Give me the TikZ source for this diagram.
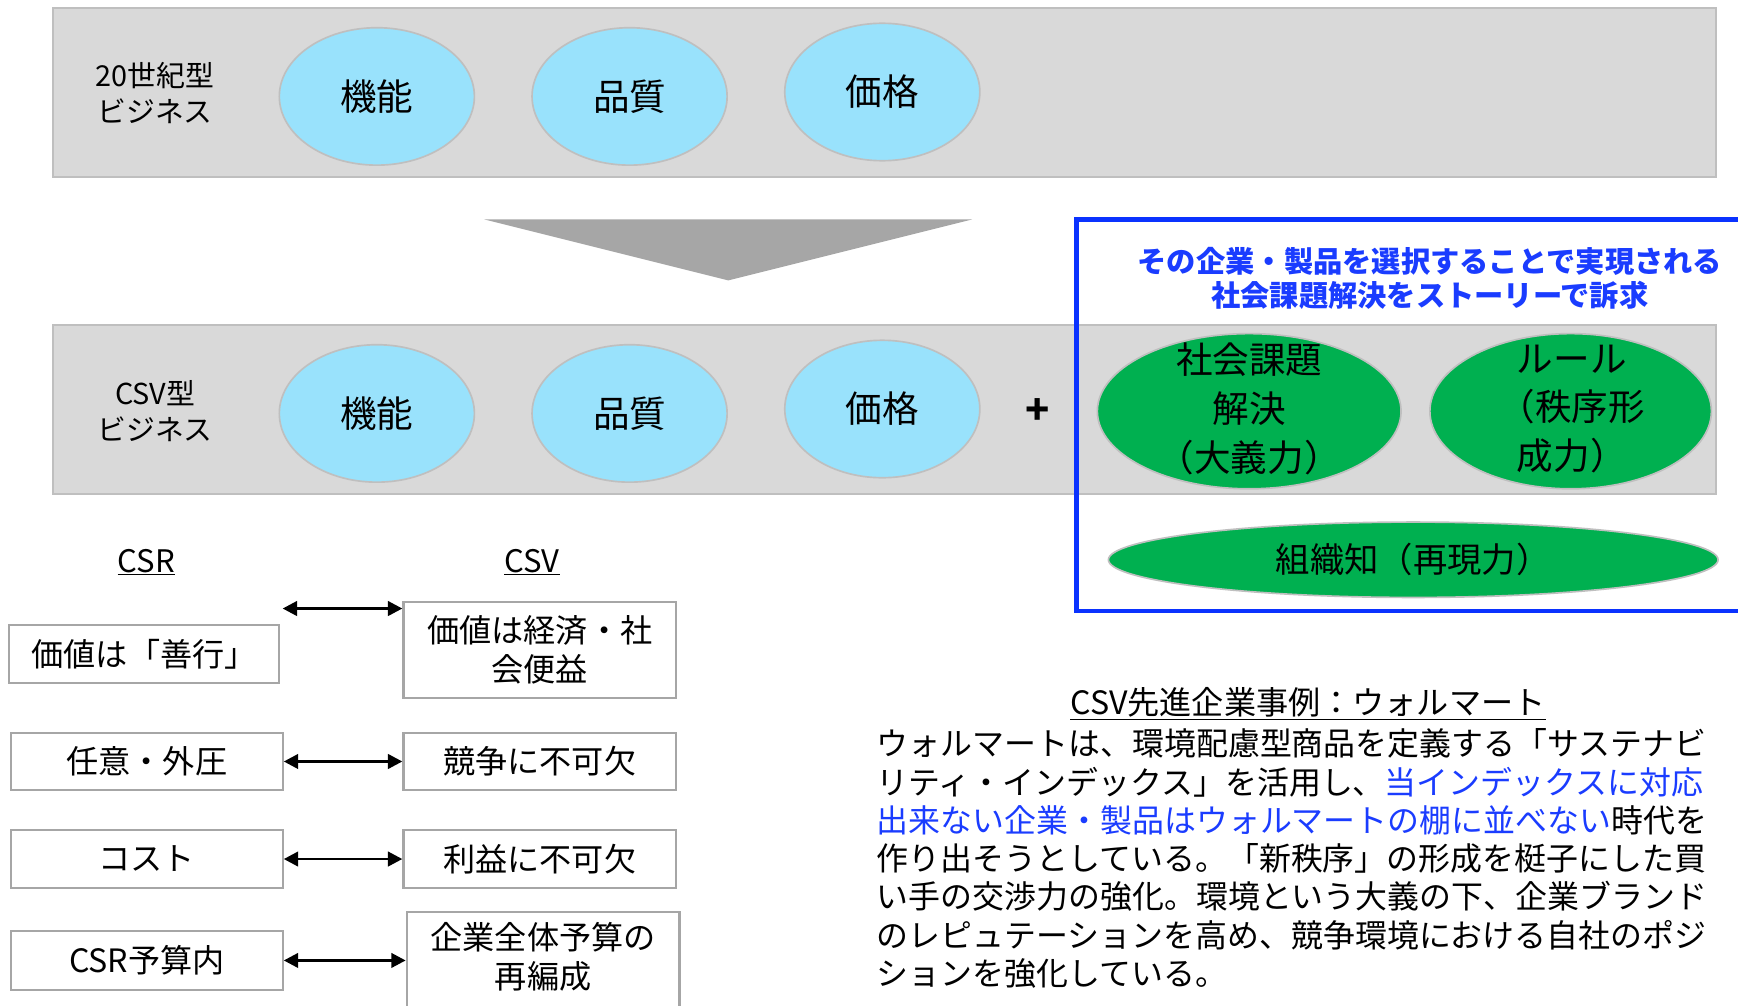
\documentclass[tikz,border=0pt]{standalone}
\usepackage{fontspec}
\setmainfont{Noto Sans CJK JP}
\usetikzlibrary{shapes.geometric,arrows.meta}
\definecolor{bandgray}{HTML}{D9D9D9}
\definecolor{edgegray}{HTML}{BFBFBF}
\definecolor{boxedge}{HTML}{A6A6A6}
\definecolor{cyanfill}{HTML}{99E2FC}
\definecolor{greenfill}{HTML}{00B050}
\definecolor{bluebox}{HTML}{0A32FF}
\definecolor{trigray}{HTML}{A6A6A6}
\definecolor{bluetext}{HTML}{1A3CFF}
\begin{document}
\begin{tikzpicture}[x=1pt,y=-1pt,
  band/.style={fill=bandgray, draw=edgegray, line width=2pt},
  oval/.style={ellipse, fill=cyanfill, draw=edgegray, line width=1.5pt, minimum width=176pt, minimum height=124pt, inner sep=0pt, font=\fontsize{33}{40}\selectfont},
  gov/.style={ellipse, fill=greenfill, draw=edgegray, line width=1.5pt, inner sep=0pt},
  gtext/.style={align=center, font=\fontsize{33}{44}\selectfont, inner sep=0pt},
  rowlabel/.style={align=center, font=\fontsize{26}{33}\selectfont, inner sep=0pt},
  cbox/.style={draw=boxedge, line width=2pt, fill=white, align=center, inner sep=0pt, font=\fontsize{29}{35}\selectfont},
  pair/.style={{Triangle[length=13pt,width=13pt]}-{Triangle[length=13pt,width=13pt]}, line width=2.6pt},
  para/.style={anchor=west, inner sep=0pt, font=\fontsize{28.8}{34}\selectfont}]
\useasboundingbox (0,0) rectangle (1568,907);
\fill[white] (0,0) rectangle (1568,907);

% top band
\draw[band] (48,7) rectangle (1548,160);
\node[rowlabel] (lab1) at (140,84) {20世紀型\\ビジネス};
\node[oval] (t1) at (340,87) {機能};
\node[oval] (t2) at (568,87) {品質};
\node[oval] (t3) at (796,83) {価格};

% down triangle
\fill[trigray] (437,198) -- (877,198) -- (657,253) -- cycle;

% middle band
\draw[band] (48,293) rectangle (1548,446);
\node[rowlabel] (lab2) at (140,371) {CSV型\\ビジネス};
\node[oval] (m1) at (340,373) {機能};
\node[oval] (m2) at (568,373) {品質};
\node[oval] (m3) at (796,369) {価格};
\node[font=\bfseries\fontsize{36}{40}\selectfont, inner sep=0pt] (plus) at (936,371) {+};

% green ovals
\node[gov, minimum width=274pt, minimum height=140pt] (g1) at (1127,371) {};
\node[gtext] (g1t) at (1127,369) {社会課題\\解決\\（大義力）};
\node[gov, minimum width=254pt, minimum height=140pt] (g2) at (1417,371) {};
\node[gtext, align=left] (g2t) at (1418,369) {\hspace*{0.5em}ルール\\（秩序形\\\hspace*{0.5em}成力）};
\node[gov, minimum width=550pt, minimum height=68pt, font=\fontsize{31}{36}\selectfont] (g3) at (1275,505) {組織知（再現力）};

% blue frame
\draw[bluebox, line width=4pt] (1570,198) -- (971,198) -- (971,551) -- (1570,551);
\node[align=center, text=bluetext, inner sep=0pt, font=\bfseries\fontsize{26.4}{31}\selectfont] (bt) at (1290,251) {その企業・製品を選択することで実現される\\社会課題解決をストーリーで訴求};

% CSR / CSV comparison
\node[font=\fontsize{28}{32}\selectfont, inner sep=0pt] (hcsr) at (132,507) {\underline{CSR}};
\node[font=\fontsize{28}{32}\selectfont, inner sep=0pt] (hcsv) at (480,507) {\underline{CSV}};

\node[cbox, minimum width=244pt, minimum height=52pt] (l1) at (130,590) {価値は「善行」};
\node[cbox, minimum width=245pt, minimum height=52pt] (l2) at (132.5,687) {任意・外圧};
\node[cbox, minimum width=245pt, minimum height=52pt] (l3) at (132.5,775) {コスト};
\node[cbox, minimum width=245pt, minimum height=53pt] (l4) at (132.5,866.5) {CSR予算内};

\node[cbox, minimum width=246pt, minimum height=87pt] (r1) at (487,586.5) {価値は経済・社\\会便益};
\node[cbox, minimum width=246pt, minimum height=52pt] (r2) at (487,687) {競争に不可欠};
\node[cbox, minimum width=246pt, minimum height=52pt] (r3) at (487,775) {利益に不可欠};
\node[cbox, minimum width=246pt, minimum height=92pt] (r4) at (490,869) {};
\node[align=center, inner sep=0pt, font=\fontsize{29}{35}\selectfont] (r4t) at (490,863) {企業全体予算の\\再編成};

\coordinate (a1) at (255,549);
\draw[pair] (a1) -- (a1 -| r1.west);
\draw[pair] (l2.east) -- (r2.west);
\draw[pair] (l3.east) -- (r3.west);
\draw[pair] (l4.east) -- (l4.east -| r4.west);

% case study
\node[font=\fontsize{29}{34}\selectfont, inner sep=0pt] (ttl) at (1180,635) {\underline{CSV先進企業事例：ウォルマート}};
\node[para] (p1) at (791,671) {ウォルマートは、環境配慮型商品を定義する「サステナビ};
\node[para] (p2) at (791,705.5) {リティ・インデックス」を活用し、\textcolor{bluetext}{当インデックスに対応}};
\node[para] (p3) at (791,740) {\textcolor{bluetext}{出来ない企業・製品はウォルマートの棚に並べない}時代を};
\node[para] (p4) at (791,774.5) {作り出そうとしている。「新秩序」の形成を梃子にした買};
\node[para] (p5) at (791,809) {い手の交渉力の強化。環境という大義の下、企業ブランド};
\node[para] (p6) at (791,843.5) {のレピュテーションを高め、競争環境における自社のポジ};
\node[para] (p7) at (791,878) {ションを強化している。};
\end{tikzpicture}
\end{document}
